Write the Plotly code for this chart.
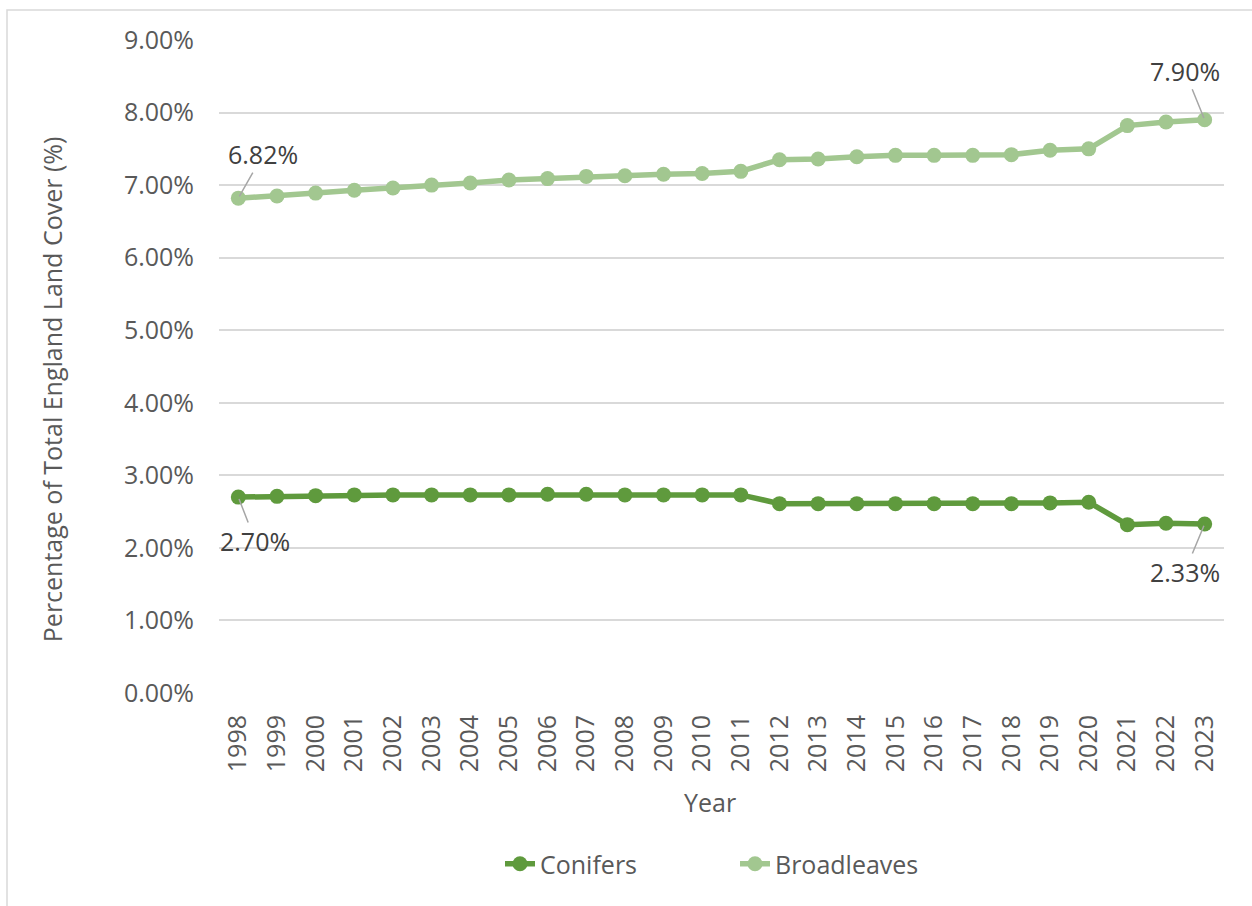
import plotly.graph_objects as go

years = [str(y) for y in range(1998, 2024)]
conifers = [2.70, 2.71, 2.72, 2.73, 2.73, 2.73, 2.73, 2.73, 2.74, 2.74, 2.73, 2.73, 2.73, 2.73,
            2.61, 2.61, 2.61, 2.61, 2.61, 2.61, 2.61, 2.62, 2.63, 2.32, 2.34, 2.33]
broadleaves = [6.82, 6.85, 6.89, 6.93, 6.96, 7.00, 7.03, 7.07, 7.09, 7.12, 7.13, 7.15, 7.16, 7.19,
               7.35, 7.36, 7.39, 7.41, 7.41, 7.41, 7.42, 7.48, 7.50, 7.82, 7.87, 7.90]
y_ticks = [0, 1, 2, 3, 4, 5, 6, 7, 8, 9]

C_CON = "#5F9A3D"
C_BRO = "#A2C790"
FONT = "Open Sans"
TXT = "#595959"

fig = go.Figure()
fig.add_trace(go.Scatter(x=years, y=conifers, name="Conifers", mode="lines+markers",
                         line=dict(color=C_CON, width=5.5), marker=dict(size=15, color=C_CON)))
fig.add_trace(go.Scatter(x=years, y=broadleaves, name="Broadleaves", mode="lines+markers",
                         line=dict(color=C_BRO, width=5.5), marker=dict(size=15, color=C_BRO)))

def label(i, series, ax, ay):
    fig.add_annotation(x=i, y=series[i], xref="x", yref="y", text=f"{series[i]:.2f}%",
                       showarrow=True, arrowhead=0, arrowwidth=1.5, arrowcolor="#A6A6A6",
                       ax=ax, ay=ay, standoff=2,
                       font=dict(family=FONT, size=25, color="#404040"))

label(0, broadleaves, 25, -44)
label(len(years) - 1, broadleaves, -20, -49)
label(0, conifers, 17, 44)
label(len(years) - 1, conifers, -20, 48)

fig.add_annotation(x=-0.166, y=0.4655, xref="paper", yref="paper", text="Percentage of Total England Land Cover (%)",
                   textangle=-90, showarrow=False, xanchor="center", yanchor="middle",
                   font=dict(family=FONT, size=25, color=TXT))
fig.add_annotation(x=0.4886, y=-0.167, xref="paper", yref="paper", text="Year",
                   showarrow=False, xanchor="center", yanchor="middle",
                   font=dict(family=FONT, size=25, color=TXT))

L, R, T, B = 219, 28, 40, 213
W, H = 1252, 906
pw, ph = W - L - R, H - T - B
fig.add_shape(type="rect", xref="paper", yref="paper",
              x0=(7 - L) / pw, x1=(1270 - L) / pw,
              y0=(H - B - 930) / ph, y1=(H - B - 10) / ph,
              line=dict(color="#D9D9D9", width=1.5), fillcolor="rgba(0,0,0,0)", layer="below")

fig.update_layout(
    width=W, height=H,
    margin=dict(l=L, r=R, t=T, b=B),
    paper_bgcolor="white", plot_bgcolor="white",
    font=dict(family=FONT, size=25, color=TXT),
    showlegend=True,
    legend=dict(orientation="h", x=(500 - L) / pw, y=(H - B - 864) / ph, xanchor="left", yanchor="middle",
                font=dict(family=FONT, size=25, color=TXT), entrywidth=190, entrywidthmode="pixels",
                bgcolor="rgba(0,0,0,0)"),
    xaxis=dict(type="category", range=[-0.5, 25.5], tickangle=-90, showgrid=False,
               showline=False, zeroline=False, ticks="", ticklabelstandoff=16,
               tickfont=dict(family=FONT, size=25, color=TXT)),
    yaxis=dict(range=[0, 9], tickvals=y_ticks, ticktext=[f"{v:.2f}%" for v in y_ticks],
               showgrid=True, gridcolor="#D9D9D9", gridwidth=1.5, zeroline=False, showline=False,
               ticks="", ticklabelstandoff=24, tickfont=dict(family=FONT, size=25, color=TXT)),
)

fig.write_html("out.html")
